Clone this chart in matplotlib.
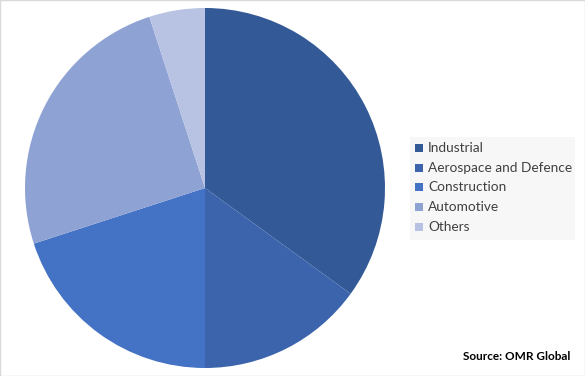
import matplotlib.pyplot as plt
from matplotlib.patches import Rectangle

# Market share by end-use
segments = ["Industrial", "Aerospace and Defence", "Construction", "Automotive", "Others"]
shares = [35, 15, 20, 25, 5]
colors = ["#335A96", "#3B64AD", "#4472C4", "#8FA2D4", "#B8C2E3"]

plt.rcParams['font.family'] = ['Lato', 'DejaVu Sans']

fig = plt.figure(figsize=(5.85, 3.76), dpi=100)
fig.patch.set_facecolor("white")

ax = fig.add_axes([25 / 585, 8 / 376, 360 / 585, 360 / 376])
wedges, _ = ax.pie(shares, colors=colors, startangle=90, counterclock=False,
                   wedgeprops=dict(linewidth=0))
ax.set_xlim(-1, 1)
ax.set_ylim(-1, 1)
ax.set_aspect("equal")
ax.axis("off")

# legend with light grey box
fig.patches.append(Rectangle((410 / 585, 1 - 240 / 376), 165 / 585, 103 / 376,
                             transform=fig.transFigure, facecolor="#F7F7F7",
                             edgecolor="none", zorder=0))
y0 = 148
for i, (lab, c) in enumerate(zip(segments, colors)):
    y = y0 + i * 19.7
    fig.patches.append(Rectangle((415 / 585, 1 - (y + 4) / 376), 8 / 585, 8 / 376,
                                 transform=fig.transFigure, facecolor=c,
                                 edgecolor="none", zorder=1))
    fig.text(428 / 585, 1 - y / 376, lab, fontsize=9.8, color="#404040",
             va="center", ha="left")

fig.text(570 / 585, 1 - 357 / 376, "Source: OMR Global", fontsize=8.5,
         fontweight="bold", color="black", ha="right", va="center")

# thin frame around the chart area
fig.patches.append(Rectangle((0, 0), 1, 1, transform=fig.transFigure,
                             facecolor="none", edgecolor="#D9D9D9", linewidth=1))

fig.savefig("out.png", dpi=100)
